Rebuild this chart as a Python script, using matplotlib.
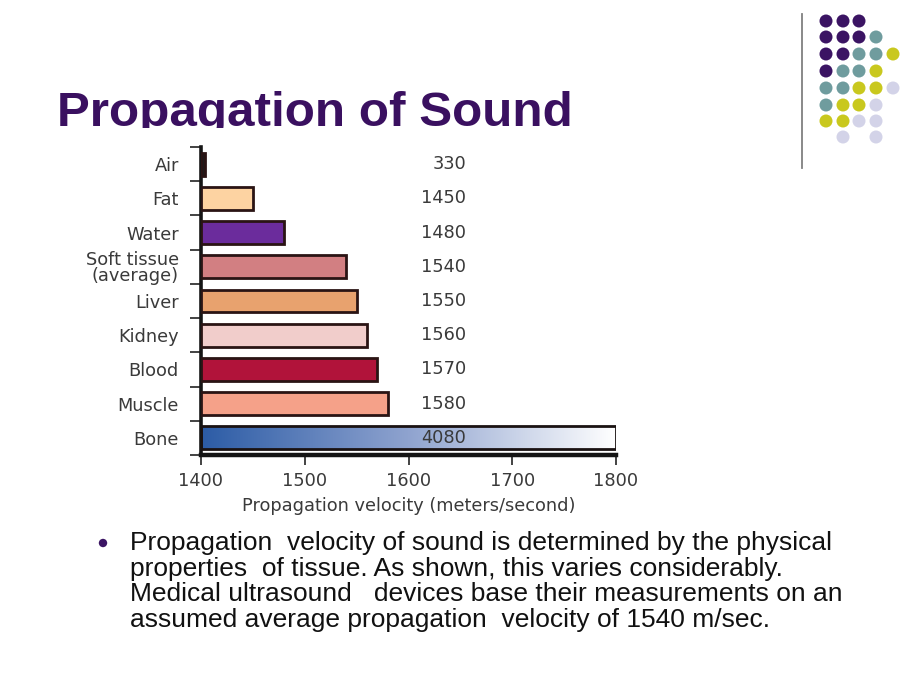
import matplotlib
matplotlib.use("Agg")
import matplotlib.pyplot as plt
import numpy as np
from matplotlib.transforms import Bbox
from matplotlib.patches import Circle
from matplotlib.colors import LinearSegmentedColormap

# ---------------- data ----------------
tissues = ["Air", "Fat", "Water", "Soft tissue\n(average)", "Liver",
           "Kidney", "Blood", "Muscle", "Bone"]
velocities = [330, 1450, 1480, 1540, 1550, 1560, 1570, 1580, 4080]
bar_colors = ["#1e1a1a", "#fdd3a2", "#6b2c9c", "#d27f82", "#e8a26e",
              "#f1cdcb", "#b1133a", "#f5a189", "#2f5fa8"]
x_ticks = [1400, 1500, 1600, 1700, 1800]
x_label = "Propagation velocity (meters/second)"
title = "Propagation of Sound"
body_lines = [
    "Propagation  velocity of sound is determined by the physical",
    "properties  of tissue. As shown, this varies considerably.",
    "Medical ultrasound   devices base their measurements on an",
    "assumed average propagation  velocity of 1540 m/sec.",
]
# decorative dot pattern (P=purple, T=teal, Y=yellow, L=lavender, .=none)
dot_rows = ["PPP..", "PPPT.", "PPTTY", "PTTY.", "TTYYL", "TYYL.", "YYLL.", ".L.L."]
dot_colors = {"P": "#3b1463", "T": "#6f9c9e", "Y": "#c9c81e", "L": "#d3d3e8"}

W, H = 920, 690
fig = plt.figure(figsize=(9.2, 6.9), dpi=100)
fig.patch.set_facecolor("white")

def fx(px):
    return px / W

def fy(py):
    return 1 - py / H

FONT = ["Liberation Sans", "DejaVu Sans"]
CFONT = ["DejaVu Sans"]
CFS = 12.8
GRAY = "#3a3a3a"

# ---------------- chart ----------------
ax_l, ax_r, ax_t, ax_b = 201, 616, 147, 455
ax = fig.add_axes([fx(ax_l), fy(ax_b), (ax_r - ax_l) / W, (ax_b - ax_t) / H])
xmin, xmax = x_ticks[0], x_ticks[-1]
n = len(tissues)
ypos = np.arange(n)
bh = 0.67
# values below the axis start show as a sliver, values beyond are cut at the end
shown = np.clip(np.array(velocities, dtype=float), xmin + 3.5, xmax)

for i in range(n):
    if i == n - 1:
        cmap = LinearSegmentedColormap.from_list("bone", ["#2c5ca6", "#8fa3cf", "#ffffff"])
        grad = np.linspace(0, 1, 256).reshape(1, -1)
        ax.imshow(grad, cmap=cmap, aspect="auto",
                  extent=(xmin, shown[i], ypos[i] + bh / 2, ypos[i] - bh / 2),
                  zorder=2)
        ax.barh(ypos[i], shown[i] - xmin, left=xmin, height=bh, facecolor="none",
                edgecolor="#1a1212", linewidth=2.0, zorder=3)
    else:
        ax.barh(ypos[i], shown[i] - xmin, left=xmin, height=bh, color=bar_colors[i],
                edgecolor="#2a1414", linewidth=2.0, zorder=3)

ax.set_xlim(xmin, xmax)
ax.set_ylim(n - 0.5, -0.5)
ax.set_xticks(x_ticks)
ax.set_xticklabels([str(v) for v in x_ticks], fontsize=CFS, color=GRAY, family=CFONT)
ax.tick_params(axis="x", direction="out", length=7, width=1.2, color="#222222", pad=5)

ax.set_yticks(np.arange(n + 1) - 0.5)
ax.set_yticklabels([])
ax.tick_params(axis="y", which="major", direction="out", length=8, width=1.2, color="#222222")
ax.set_yticks(ypos, minor=True)
ax.set_yticklabels(tissues, minor=True, fontsize=CFS, color=GRAY, family=CFONT,
                   linespacing=0.9)
ax.tick_params(axis="y", which="minor", length=0, pad=16)

for s in ["top", "right"]:
    ax.spines[s].set_visible(False)
ax.spines["left"].set_linewidth(2.6)
ax.spines["bottom"].set_linewidth(3.2)
ax.spines["left"].set_color("#151515")
ax.spines["bottom"].set_color("#151515")

ax.set_xlabel(x_label, fontsize=CFS, color=GRAY, family=CFONT, labelpad=5)

for i, v in enumerate(velocities):
    ax.text(0.639, ypos[i], str(v), transform=ax.get_yaxis_transform(),
            ha="right", va="center", fontsize=CFS, color=GRAY, family=CFONT, zorder=4)

# ---------------- slide decorations ----------------
t = fig.text(fx(57), fy(126), title, fontsize=35.6, fontweight="bold",
             color="#3a1060", family=FONT, ha="left", va="baseline")
t.set_clip_box(Bbox.from_extents(0, H - 128, W, H))
t.set_clip_on(True)

fig.add_artist(plt.Line2D([fx(802), fx(802)], [fy(14), fy(168)],
                          color="#808080", linewidth=1.3, transform=fig.transFigure))

col_x = [826, 843, 859, 876, 893]
row_y = [21, 37, 54, 71, 88, 105, 121, 137]
for r, row in enumerate(dot_rows):
    for c, ch in enumerate(row):
        if ch == ".":
            continue
        fig.add_artist(Circle((col_x[c], H - row_y[r]), 6.5, transform=None,
                              facecolor=dot_colors[ch], edgecolor="none"))

fig.add_artist(Circle((103, H - 543), 4.2, transform=None,
                      facecolor="#3b1463", edgecolor="none"))
for k, line in enumerate(body_lines):
    fig.text(fx(130), fy(550 + k * 25.7), line, fontsize=19, color="#111111",
             family=FONT, ha="left", va="baseline")

fig.savefig("out.png", dpi=100, facecolor="white")
